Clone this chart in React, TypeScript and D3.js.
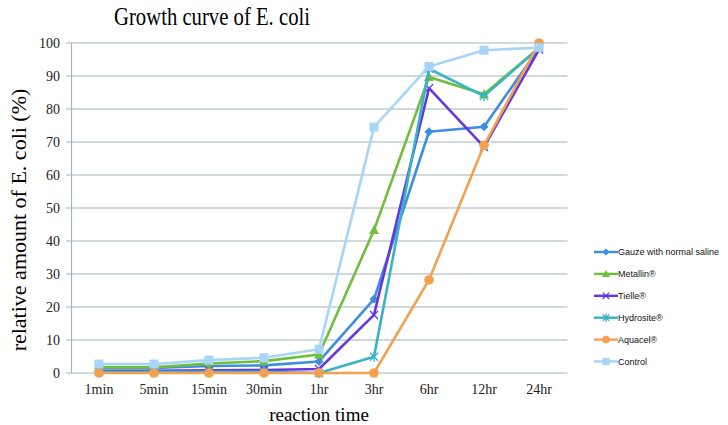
import React from "react";
import * as d3 from "d3";

const categories = ["1min", "5min", "15min", "30min", "1hr", "3hr", "6hr", "12hr", "24hr"];
const seriesNames = ["Gauze with normal saline", "Metallin®", "Tielle®", "Hydrosite®", "Aquacel®", "Control"];
const gauze = [1.5, 1.5, 2.1, 2.3, 3.5, 22.4, 73.1, 74.6, 98.5];
const metallin = [1.7, 1.7, 2.9, 3.6, 5.6, 43.3, 89.7, 84.5, 98.5];
const tielle = [0.7, 0.7, 0.8, 0.9, 1.2, 17.6, 86.3, 68.5, 98];
const hydrosite = [0.4, 0.4, 0.4, 0.4, 0, 4.9, 92.2, 83.9, 98.5];
const aquacel = [0, 0, 0, 0, 0, 0, 28.2, 69, 100];
const control = [2.7, 2.7, 3.9, 4.6, 7.2, 74.5, 92.9, 97.8, 98.6];
const yTicks = [0, 10, 20, 30, 40, 50, 60, 70, 80, 90, 100];

const seriesValues = [gauze, metallin, tielle, hydrosite, aquacel, control];
const colors = ["#3d8ee0", "#6fbe3c", "#6636e0", "#37b3c8", "#f1a150", "#a7d5f6"];
const markers = ["diamond", "triangle", "x", "asterisk", "circle", "square"];

function Marker({ type, x, y, color, k = 1 }: { type: string; x: number; y: number; color: string; k?: number }) {
  if (type === "diamond") {
    const s = 4.5 * k;
    return <path d={`M${x},${y - s}L${x + s},${y}L${x},${y + s}L${x - s},${y}Z`} fill={color} />;
  }
  if (type === "triangle") {
    const s = 5 * k;
    return <path d={`M${x},${y - s}L${x + s},${y + s * 0.8}L${x - s},${y + s * 0.8}Z`} fill={color} />;
  }
  if (type === "x") {
    const s = 4 * k;
    return <path d={`M${x - s},${y - s}L${x + s},${y + s}M${x + s},${y - s}L${x - s},${y + s}`} stroke={color} strokeWidth={1.3} fill="none" />;
  }
  if (type === "asterisk") {
    const s = 4 * k;
    return <path d={`M${x - s},${y - s}L${x + s},${y + s}M${x + s},${y - s}L${x - s},${y + s}M${x},${y - s - 1}L${x},${y + s + 1}`} stroke={color} strokeWidth={1.3} fill="none" />;
  }
  if (type === "circle") {
    return <circle cx={x} cy={y} r={4.8 * k} fill={color} />;
  }
  const s = 4.5 * k;
  return <rect x={x - s} y={y - s} width={2 * s} height={2 * s} fill={color} />;
}

export default function App() {
  const width = 728;
  const height = 425;
  const plotLeft = 71.5;
  const plotRight = 566.5;
  const plotTop = 43;
  const plotBottom = 373;

  const x = d3.scaleBand().domain(categories).range([plotLeft, plotRight]);
  const y = d3.scaleLinear().domain([0, 100]).range([plotBottom, plotTop]);
  const cx = (c: string) => (x(c) as number) + x.bandwidth() / 2;

  const line = d3
    .line<number>()
    .x((_, i) => cx(categories[i]))
    .y((d) => y(d));

  const serif = "'Liberation Serif', 'DejaVu Serif', serif";
  const sans = "'Liberation Sans', 'Open Sans', sans-serif";
  const legendY0 = 252;
  const legendStep = 21.9;

  return (
    <svg width={width} height={height} style={{ position: "absolute", left: 0, top: 0, background: "#fff" }}>
      <rect width={width} height={height} fill="#fff" />
      <text x={212} y={25} textAnchor="middle" fontFamily={serif} fontSize={25} fill="#000" textLength={196} lengthAdjust="spacingAndGlyphs">
        Growth curve of E. coli
      </text>
      {yTicks.map((t) => (
        <g key={t}>
          <line x1={66} x2={plotRight + 1} y1={y(t)} y2={y(t)} stroke="#a3b4bd" strokeWidth={1.2} />
          <text x={60} y={y(t) + 4.5} textAnchor="end" fontFamily={serif} fontSize={14} fill="#222">
            {t}
          </text>
        </g>
      ))}
      <line x1={plotLeft} x2={plotLeft} y1={plotTop} y2={plotBottom} stroke="#a3b4bd" strokeWidth={1.2} />
      {categories.map((c) => (
        <text key={c} x={cx(c)} y={394} textAnchor="middle" fontFamily={serif} fontSize={14} fill="#222">
          {c}
        </text>
      ))}
      <text x={319} y={421} textAnchor="middle" fontFamily={serif} fontSize={19} fill="#000">
        reaction time
      </text>
      <text
        transform={`translate(26,${(plotTop + plotBottom) / 2 + 12}) rotate(-90)`}
        textAnchor="middle"
        fontFamily={serif}
        fontSize={22}
        fill="#000"
      >
        relative amount of E. coli (%)
      </text>
      {seriesValues.map((vals, si) => (
        <g key={si}>
          <path d={line(vals) || ""} fill="none" stroke={colors[si]} strokeWidth={2.6} strokeLinejoin="round" />
          {vals.map((v, i) => (
            <Marker key={i} type={markers[si]} x={cx(categories[i])} y={y(v)} color={colors[si]} />
          ))}
        </g>
      ))}
      {seriesNames.map((n, i) => {
        const ly = legendY0 + i * legendStep;
        return (
          <g key={n}>
            <line x1={594} x2={618} y1={ly} y2={ly} stroke={colors[i]} strokeWidth={2.4} />
            <Marker type={markers[i]} x={606} y={ly} color={colors[i]} k={0.8} />
            <text x={618} y={ly + 3.3} fontFamily={sans} fontSize={9} fill="#111">
              {n}
            </text>
          </g>
        );
      })}
    </svg>
  );
}
